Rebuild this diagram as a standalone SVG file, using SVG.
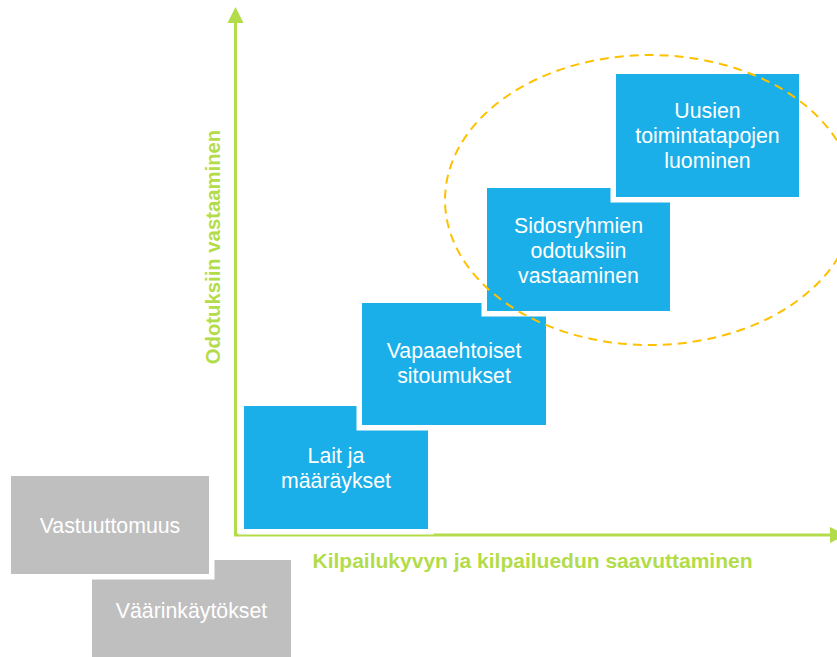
<svg xmlns="http://www.w3.org/2000/svg" width="837" height="657" viewBox="0 0 837 657">
<style>
.box{stroke:#ffffff;stroke-width:11;paint-order:stroke}
.blue{fill:#1aafe8}
.grey{fill:#bfbfbf}
.t{font-family:"Liberation Sans",Arial,sans-serif;font-size:21.3px;fill:#ffffff;text-anchor:middle}
.ax{stroke:#b3dc4a;stroke-width:3;fill:none}
.lbl{font-family:"Liberation Sans",Arial,sans-serif;font-weight:bold;font-size:21px;fill:#b3dc4a;text-anchor:middle}
</style>
<rect width="837" height="657" fill="#ffffff"/>
<g id="axes">
<line class="ax" x1="235.5" y1="20" x2="235.5" y2="535"/>
<line class="ax" x1="234" y1="535" x2="832" y2="535"/>
<polygon points="235.5,7 227.5,23 243.5,23" fill="#b3dc4a"/>
<polygon points="846,535 830,527 830,543" fill="#b3dc4a"/>
<text class="lbl" x="532.5" y="568">Kilpailukyvyn ja kilpailuedun saavuttaminen</text>
<text class="lbl" style="font-size:20.3px" transform="translate(220,247) rotate(-90)">Odotuksiin vastaaminen</text>
</g>
<g id="vaarinkaytokset">
<rect class="box grey" x="92" y="560" width="199" height="104"/>
<text class="t" x="191.5" y="618">Väärinkäytökset</text>
</g>
<g id="vastuuttomuus">
<rect class="box grey" x="11" y="476" width="198" height="98"/>
<text class="t" x="110" y="533">Vastuuttomuus</text>
</g>
<g id="lait">
<rect class="box blue" x="244" y="406" width="184" height="123"/>
<text class="t" x="336" y="463">Lait ja</text>
<text class="t" x="336" y="488">määräykset</text>
</g>
<g id="vapaaehtoiset">
<rect class="box blue" x="362" y="303" width="184" height="122"/>
<text class="t" x="454" y="358">Vapaaehtoiset</text>
<text class="t" x="454" y="383">sitoumukset</text>
</g>
<g id="sidosryhmien">
<rect class="box blue" x="487" y="188" width="183" height="123"/>
<text class="t" x="578.5" y="233">Sidosryhmien</text>
<text class="t" x="578.5" y="258">odotuksiin</text>
<text class="t" x="578.5" y="283">vastaaminen</text>
</g>
<g id="uusien">
<rect class="box blue" x="616" y="74" width="183" height="123"/>
<text class="t" x="707.5" y="118">Uusien</text>
<text class="t" x="707.5" y="143">toimintatapojen</text>
<text class="t" x="707.5" y="168">luominen</text>
</g>
<g id="ellipse">
<ellipse cx="650" cy="200" rx="205" ry="145" fill="none" stroke="#ffc000" stroke-width="2" stroke-dasharray="9,6"/>
</g>
</svg>
